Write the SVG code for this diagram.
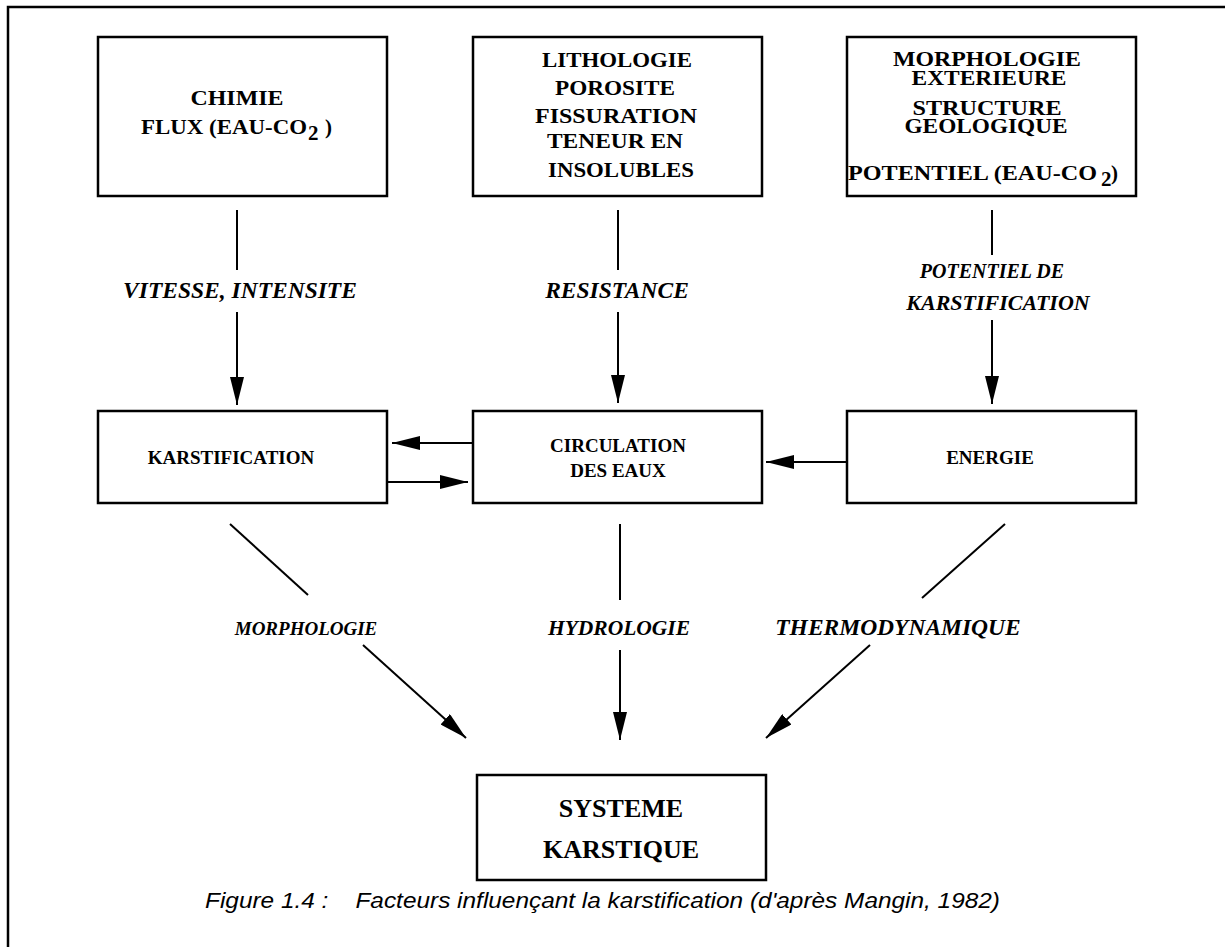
<svg xmlns="http://www.w3.org/2000/svg" width="1225" height="947" viewBox="0 0 1225 947">
<defs>
<marker id="ah" markerUnits="userSpaceOnUse" markerWidth="28" markerHeight="14" refX="28" refY="7" orient="auto">
<path d="M0,0 L28,7 L0,14 z" fill="#000"/>
</marker>
<style>
.box{fill:#fff;stroke:#000;stroke-width:2.5}
.t{font-family:"Liberation Serif","Times New Roman",serif;font-weight:bold;font-size:19px;text-anchor:middle;fill:#000}
.tt{font-family:"Liberation Serif","Times New Roman",serif;font-weight:bold;font-size:21px;fill:#000}
.m{text-anchor:middle}
.big{font-size:26px}
.lab{font-family:"Liberation Serif","Times New Roman",serif;font-weight:bold;font-style:italic;text-anchor:middle;fill:#000}
.ln{stroke:#000;stroke-width:2;fill:none}
.ar{stroke:#000;stroke-width:2;fill:none;marker-end:url(#ah)}
.cap{font-family:"Liberation Sans",Arial,sans-serif;font-style:italic;font-size:22px;fill:#000}
</style>
</defs>
<rect width="1225" height="947" fill="#fff"/>
<path d="M8,947 L8,7 L1225,7" fill="none" stroke="#000" stroke-width="2.5"/>

<g id="chimie">
<rect class="box" x="98" y="37" width="289" height="159"/>
<text class="tt m" x="237" y="105" font-size="23" textLength="93" lengthAdjust="spacingAndGlyphs">CHIMIE</text>
<text class="tt" x="141" y="134" font-size="23" textLength="166" lengthAdjust="spacingAndGlyphs">FLUX (EAU-CO</text>
<text class="tt" x="308" y="140" font-size="15">2</text>
<text class="tt" x="325" y="134" font-size="23">)</text>
</g>
<g id="lithologie">
<rect class="box" x="473" y="37" width="289" height="159"/>
<text class="tt m" x="617" y="67" textLength="150" lengthAdjust="spacingAndGlyphs">LITHOLOGIE</text>
<text class="tt m" x="615" y="95" textLength="120" lengthAdjust="spacingAndGlyphs">POROSITE</text>
<text class="tt m" x="616" y="123" textLength="162" lengthAdjust="spacingAndGlyphs">FISSURATION</text>
<text class="tt m" x="615" y="148" textLength="136" lengthAdjust="spacingAndGlyphs">TENEUR EN</text>
<text class="tt m" x="621" y="177" textLength="146" lengthAdjust="spacingAndGlyphs">INSOLUBLES</text>
</g>
<g id="morphologie">
<rect class="box" x="847" y="37" width="289" height="159"/>
<text class="tt m" x="987" y="66" font-size="20" textLength="188" lengthAdjust="spacingAndGlyphs">MORPHOLOGIE</text>
<text class="tt m" x="989" y="85" font-size="20" textLength="155" lengthAdjust="spacingAndGlyphs">EXTERIEURE</text>
<text class="tt m" x="987" y="115" font-size="20" textLength="149" lengthAdjust="spacingAndGlyphs">STRUCTURE</text>
<text class="tt m" x="986" y="133" font-size="20" textLength="163" lengthAdjust="spacingAndGlyphs">GEOLOGIQUE</text>
<text class="tt" x="848" y="180" textLength="249" lengthAdjust="spacingAndGlyphs">POTENTIEL (EAU-CO</text>
<text class="tt" x="1101" y="186" font-size="15">2</text>
<text class="tt" x="1111" y="180">)</text>
</g>
<g id="karstification">
<rect class="box" x="98" y="411" width="289" height="92"/>
<text class="t" x="231" y="464">KARSTIFICATION</text>
</g>
<g id="circulation">
<rect class="box" x="473" y="411" width="289" height="92"/>
<text class="t" x="618" y="452">CIRCULATION</text>
<text class="t" x="618" y="477">DES EAUX</text>
</g>
<g id="energie">
<rect class="box" x="847" y="411" width="289" height="92"/>
<text class="t" x="990" y="464">ENERGIE</text>
</g>
<g id="systeme">
<rect class="box" x="477" y="775" width="289" height="105"/>
<text class="t big" x="621" y="817">SYSTEME</text>
<text class="t big" x="621" y="858">KARSTIQUE</text>
</g>

<g id="connectors">
<line class="ln" x1="237" y1="210" x2="237" y2="270"/>
<line class="ar" x1="237" y1="312" x2="237" y2="405"/>
<line class="ln" x1="618" y1="210" x2="618" y2="270"/>
<line class="ar" x1="618" y1="312" x2="618" y2="403"/>
<line class="ln" x1="992" y1="210" x2="992" y2="255"/>
<line class="ar" x1="992" y1="320" x2="992" y2="404"/>
<line class="ar" x1="473" y1="443" x2="392" y2="443"/>
<line class="ar" x1="387" y1="482" x2="468" y2="482"/>
<line class="ar" x1="847" y1="462" x2="766" y2="462"/>
<line class="ln" x1="230" y1="524" x2="308" y2="595"/>
<line class="ar" x1="363" y1="645" x2="466" y2="738"/>
<line class="ln" x1="620" y1="524" x2="620" y2="600"/>
<line class="ar" x1="620" y1="650" x2="620" y2="740"/>
<line class="ln" x1="1005" y1="524" x2="922" y2="598"/>
<line class="ar" x1="870" y1="645" x2="766" y2="738"/>
</g>

<g id="labels">
<text class="lab" x="240" y="298" font-size="23.5">VITESSE, INTENSITE</text>
<text class="lab" x="617" y="298" font-size="23.5">RESISTANCE</text>
<text class="lab" x="992" y="278" font-size="20">POTENTIEL DE</text>
<text class="lab" x="998" y="310" font-size="22">KARSTIFICATION</text>
<text class="lab" x="306" y="635" font-size="19">MORPHOLOGIE</text>
<text class="lab" x="619" y="635" font-size="21.5">HYDROLOGIE</text>
<text class="lab" x="898" y="635" font-size="23.5">THERMODYNAMIQUE</text>
</g>
<g id="caption">
<text class="cap" x="205" y="908" xml:space="preserve" textLength="795" lengthAdjust="spacingAndGlyphs">Figure 1.4 :    Facteurs influençant la karstification (d'après Mangin, 1982)</text>
</g>
</svg>
